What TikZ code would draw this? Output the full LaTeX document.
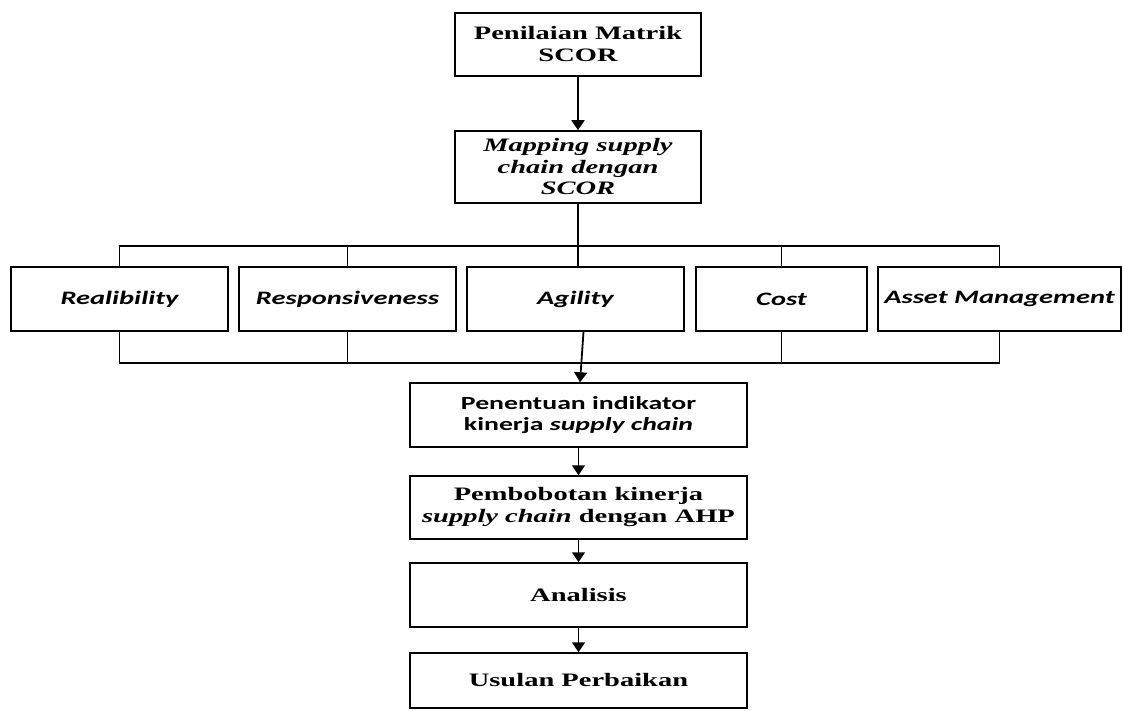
\documentclass[tikz,border=0pt]{standalone}
\usepackage{fontspec}
\setmainfont{Liberation Serif}[FakeStretch=1.5]
\newfontfamily\calfont{Carlito}[FakeStretch=1.5]
\usetikzlibrary{arrows.meta}
\tikzstyle{box} = [draw, line width=1.5pt, align=center, inner sep=0pt, font=\fontsize{19}{22}\selectfont\bfseries]
\tikzstyle{calbox} = [box, font=\fontsize{19}{22}\selectfont\calfont\bfseries\itshape]
\tikzstyle{line} = [draw, line width=1.8pt, -{Triangle[length=10pt,width=13pt]}]
\tikzstyle{plain} = [draw, line width=1.5pt]

\begin{document}
\begin{tikzpicture}[x=1pt, y=-1pt]
            \useasboundingbox (0,0) rectangle (1124,711);
                \node [box, minimum width=246pt, minimum height=63pt] (penilaian) at (578,44.5) {Penilaian Matrik\\SCOR};
                \node [box, minimum width=246pt, minimum height=72pt, font=\fontsize{19}{21.5}\selectfont\bfseries\itshape] (mapping) at (578,167) {Mapping supply\\chain dengan\\SCOR};
                \node [calbox, minimum width=217pt, minimum height=64pt] (realib) at (119.5,299) {Realibility};
                \node [calbox, minimum width=217pt, minimum height=64pt] (respon) at (347.5,299) {Responsiveness};
                \node [calbox, minimum width=217pt, minimum height=64pt] (agility) at (575.5,299) {Agility};
                \node [calbox, minimum width=171pt, minimum height=64pt] (cost) at (781.5,299) {Cost};
                \node [calbox, minimum width=243pt, minimum height=64pt] (asset) at (999.5,299) {Asset Management};
                \node [box, minimum width=337pt, minimum height=64pt, font=\fontsize{18.5}{21.5}\selectfont\calfont\bfseries] (penentuan) at (578.5,415) {Penentuan indikator\\kinerja \textit{supply chain}};
                \node [box, minimum width=337pt, minimum height=63pt] (pembobotan) at (578.5,507.5) {Pembobotan kinerja\\\textit{supply chain} dengan AHP};
                \node [box, minimum width=337pt, minimum height=64pt] (analisis) at (578.5,595) {Analisis};
                \node [box, minimum width=337pt, minimum height=55pt] (usulan) at (578.5,680.5) {Usulan Perbaikan};
                % brackets round the five attributes
                \path [plain] (mapping.south) -- (mapping.south |- agility.north);
                \path [plain] (realib.north) -- ++(0,-20) -| (asset.north);
                \path [plain] (respon.north) -- ++(0,-20);
                \path [plain] (cost.north) -- ++(0,-20);
                \path [plain] (realib.south) -- ++(0,31) -| (asset.south);
                \path [plain] (respon.south) -- ++(0,31);
                \path [plain] (cost.south) -- ++(0,31);
                \path [line] (penilaian) -- (mapping);
                \path [line] ([xshift=8pt]agility.south) -- ([xshift=1.5pt]penentuan.north);
                \path [line] (penentuan) -- (pembobotan);
                \path [line] (pembobotan) -- (analisis);
                \path [line] (analisis) -- (usulan);
            \end{tikzpicture}
\end{document}
